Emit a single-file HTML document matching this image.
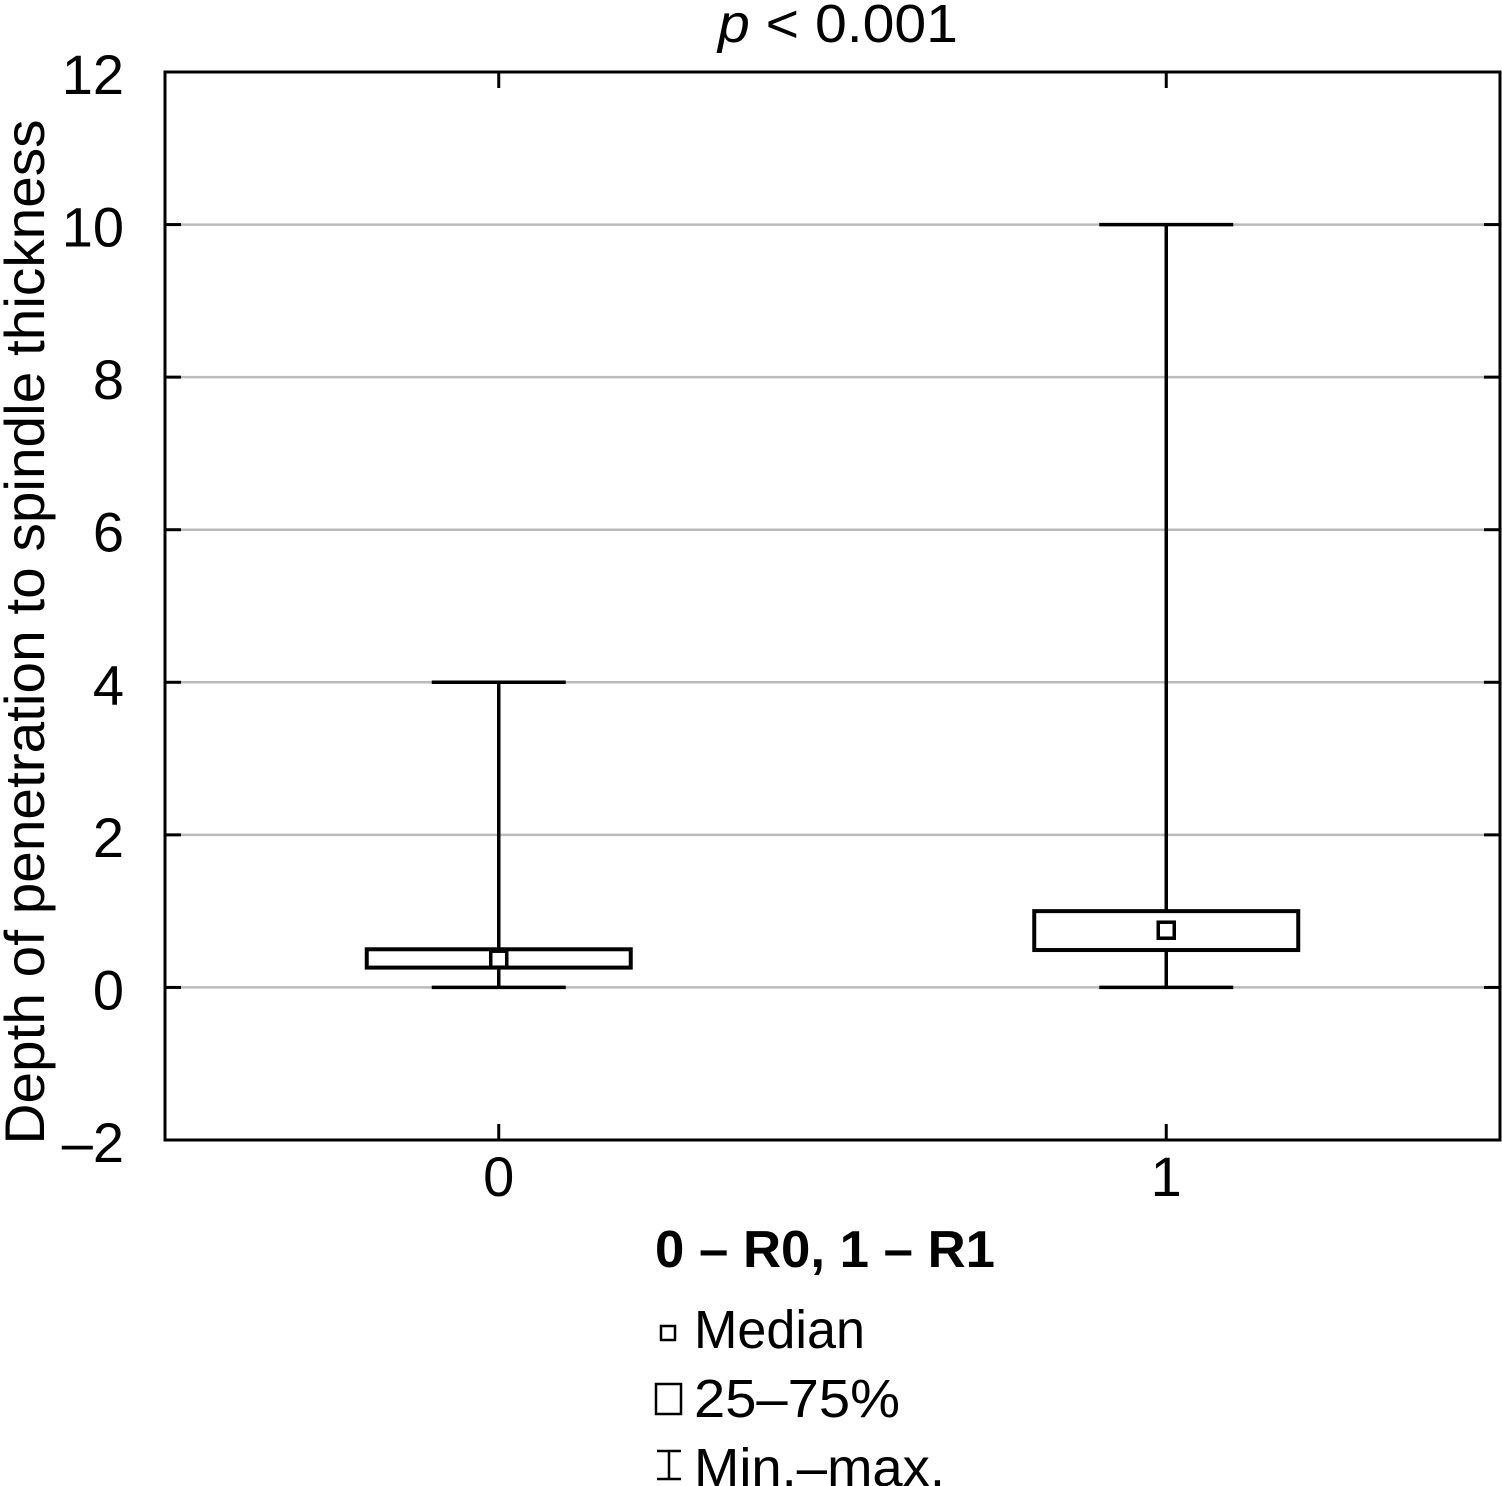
<!DOCTYPE html>
<html><head><meta charset="utf-8"><style>
html,body{margin:0;padding:0;background:#fff;}
svg{display:block;font-family:"Liberation Sans",sans-serif;}
</style></head><body>
<svg id="chart" width="1502" height="1486" viewBox="0 0 1502 1486">
<text x="838" y="42" font-size="54" text-anchor="middle" textLength="240" lengthAdjust="spacingAndGlyphs" fill="#000"><tspan font-style="italic">p</tspan> &lt; 0.001</text>
<g id="grid"></g>
<g id="yticks"></g>
<g id="xticks"></g>
<g id="marks"></g>
<rect x="165" y="72" width="1335" height="1068" fill="none" stroke="#000" stroke-width="3"/>
<text transform="translate(44,632) rotate(-90)" font-size="56" text-anchor="middle" textLength="1025" lengthAdjust="spacingAndGlyphs" fill="#000">Depth of penetration to spindle thickness</text>
<text x="825" y="1267" font-size="52" font-weight="bold" text-anchor="middle" textLength="340" lengthAdjust="spacingAndGlyphs" fill="#000">0 – R0, 1 – R1</text>
<g>
<rect x="661" y="1326" width="14" height="14" fill="none" stroke="#000" stroke-width="2.5"/>
<text x="694" y="1348" font-size="54" textLength="171" lengthAdjust="spacingAndGlyphs" fill="#000">Median</text>
<rect x="656" y="1384" width="25" height="30" fill="none" stroke="#000" stroke-width="2.5"/>
<text x="694" y="1417" font-size="54" textLength="206" lengthAdjust="spacingAndGlyphs" fill="#000">25–75%</text>
<path d="M657 1451H681M669 1451V1479M657 1479H681" stroke="#000" stroke-width="2.5" fill="none"/>
<text x="694" y="1486" font-size="54" textLength="251" lengthAdjust="spacingAndGlyphs" fill="#000">Min.–max.</text>
</g>
</svg>
<script>
const categories = ["0", "1"];
const mins = [0, 0];
const maxs = [4, 10];
const q1s = [0.26, 0.49];
const q3s = [0.5, 1.0];
const medians = [0.37, 0.75];
const yTicks = [-2, 0, 2, 4, 6, 8, 10, 12];
const yTickLabels = ["–2", "0", "2", "4", "6", "8", "10", "12"];

const NS = "http://www.w3.org/2000/svg";
const L = 165, R = 1500, T = 72, B = 1140, yMin = -2, yMax = 12;
function y(v){ return B - (v - yMin) / (yMax - yMin) * (B - T); }
function x(i){ return L + (i + 0.5) * (R - L) / categories.length; }
function mk(tag, attrs, parent){ const e = document.createElementNS(NS, tag); for (const k in attrs) e.setAttribute(k, attrs[k]); parent.appendChild(e); return e; }
const grid = document.getElementById('grid'), yt = document.getElementById('yticks'), xt = document.getElementById('xticks'), marks = document.getElementById('marks');
yTicks.forEach((v, i) => {
  if (v > yMin && v < yMax) {
    const g = mk('line', {x1: L, x2: R, y1: y(v), y2: y(v), stroke: '#bbb', 'stroke-width': 2.5}, grid);
    
    
  }
  const t1 = mk('line', {x1: L, x2: L + 16, y1: y(v), y2: y(v), stroke: '#000', 'stroke-width': 3}, yt);
  
  
  const t2 = mk('line', {x1: R - 16, x2: R, y1: y(v), y2: y(v), stroke: '#000', 'stroke-width': 3}, yt);
  
  
  const tx = mk('text', {x: 124, y: y(v) + 22, 'font-size': 56, 'text-anchor': 'end', fill: '#000'}, yt);
  tx.textContent = yTickLabels[i];
  
  
});
categories.forEach((c, i) => {
  const cx = x(i);
  const tk = mk('line', {x1: cx, x2: cx, y1: B - 16, y2: B, stroke: '#000', 'stroke-width': 3}, xt);
  
  
  const tkt = mk('line', {x1: cx, x2: cx, y1: T, y2: T + 16, stroke: '#000', 'stroke-width': 3}, xt);
  
  
  const lb = mk('text', {x: cx, y: 1196, 'font-size': 56, 'text-anchor': 'middle', fill: '#000'}, xt);
  lb.textContent = c;
  
  
  const w = mk('path', {d: `M${cx} ${y(maxs[i])}V${y(q3s[i])}M${cx} ${y(q1s[i])}V${y(mins[i])}M${cx-67} ${y(maxs[i])}H${cx+67}M${cx-67} ${y(mins[i])}H${cx+67}`, stroke: '#000', 'stroke-width': 3.5, fill: 'none'}, marks);
  
  
  const bx = mk('rect', {x: cx - 132, y: y(q3s[i]), width: 264, height: y(q1s[i]) - y(q3s[i]), fill: '#fff', stroke: '#000', 'stroke-width': 4}, marks);
  
  
  const md = mk('rect', {x: cx - 8, y: y(medians[i]) - 8, width: 16, height: 16, fill: '#fff', stroke: '#000', 'stroke-width': 3.5}, marks);
  
  
});
</script>
</body></html>
